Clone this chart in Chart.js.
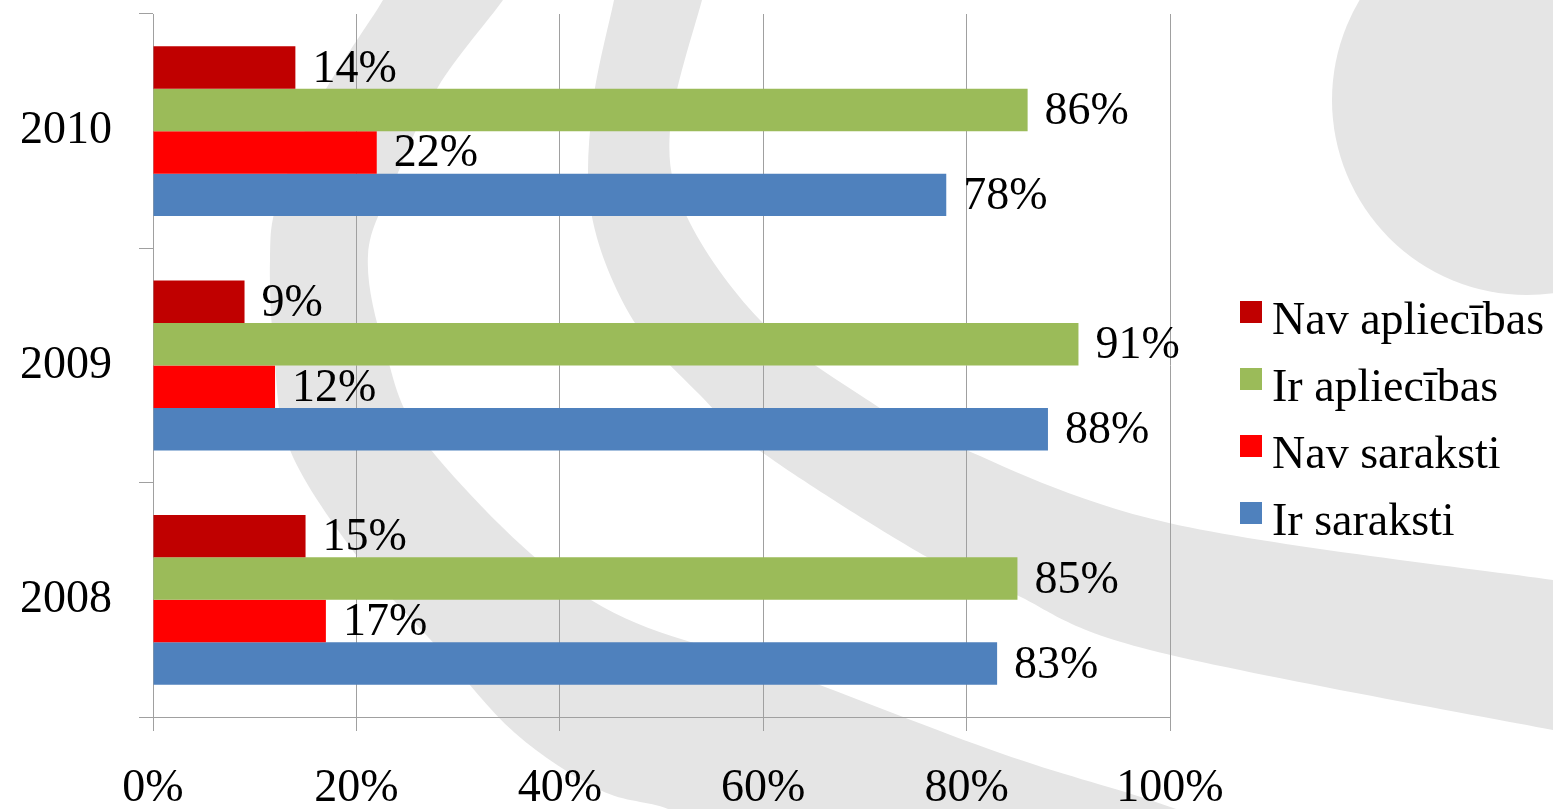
<!DOCTYPE html>
<html>
<head>
<meta charset="utf-8">
<title>Apliecības un saraksti</title>
<script src="https://cdn.jsdelivr.net/npm/chart.js@4.4.1/dist/chart.umd.min.js"></script>
<style>
  html, body { margin: 0; padding: 0; background: #fff; }
  #wrap { width: 1553px; height: 809px; position: relative; }
</style>
</head>
<body>
<div id="wrap"><canvas id="chart"></canvas></div>
<script>
// dati
const years = ['2010', '2009', '2008'];
const seriesNames = ['Nav apliecības', 'Ir apliecības', 'Nav saraksti', 'Ir saraksti'];
const navApliecibas = [14, 9, 15];
const irApliecibas = [86, 91, 85];
const navSaraksti = [22, 12, 17];
const irSaraksti = [78, 88, 83];
const xMin = 0, xMax = 100, xStep = 20;

const serif = '"Liberation Serif", "Times New Roman", serif';
const colors = ['#C00000', '#9BBB59', '#FF0000', '#4F81BD'];
const gridGray = '#a0a0a0';

// fona dekors (pelēkās lokas), koordinātes 1553x809 attēlam
const bgCircle = { x: 1527, y: 100, r: 195 };
const bgBands = [
  {
    a: [[620, -30], [614, 0], [592, 110], [592, 217], [633, 320], [700, 395], [763, 453], [927, 557], [1010, 592], [1150, 650], [1553, 730], [1620, 740]],
    b: [[1620, 588], [1553, 580], [1169, 523], [950, 443], [860, 395], [760, 320], [687, 217], [670, 130], [702, 0], [712, -30]]
  },
  {
    a: [[395, -30], [383, 0], [320, 100], [278, 200], [270, 260], [274, 350], [290, 450], [360, 560], [440, 650], [515, 733], [600, 790], [668, 809], [720, 840]],
    b: [[1260, 840], [1150, 800], [1000, 753], [783, 671], [591, 600], [431, 450], [385, 350], [368, 255], [395, 180], [438, 87], [503, 0], [520, -30]]
  }
];

function smoothPath(ctx, pts, sx, sy, first) {
  const p = pts.map(q => [q[0] * sx, q[1] * sy]);
  if (first) ctx.moveTo(p[0][0], p[0][1]); else ctx.lineTo(p[0][0], p[0][1]);
  for (let i = 0; i < p.length - 1; i++) {
    const p0 = p[i - 1] || p[i], p1 = p[i], p2 = p[i + 1], p3 = p[i + 2] || p2;
    ctx.bezierCurveTo(
      p1[0] + (p2[0] - p0[0]) / 6, p1[1] + (p2[1] - p0[1]) / 6,
      p2[0] - (p3[0] - p1[0]) / 6, p2[1] - (p3[1] - p1[1]) / 6,
      p2[0], p2[1]);
  }
}

const backgroundPlugin = {
  id: 'swoosh',
  beforeDraw(chart) {
    const ctx = chart.ctx;
    const sx = chart.width / 1553, sy = chart.height / 809;
    ctx.save();
    ctx.fillStyle = '#ffffff';
    ctx.fillRect(0, 0, chart.width, chart.height);
    ctx.fillStyle = '#e5e5e5';
    ctx.beginPath();
    ctx.arc(bgCircle.x * sx, bgCircle.y * sy, bgCircle.r * sx, 0, Math.PI * 2);
    ctx.fill();
    bgBands.forEach(band => {
      ctx.beginPath();
      smoothPath(ctx, band.a, sx, sy, true);
      smoothPath(ctx, band.b, sx, sy, false);
      ctx.closePath();
      ctx.fill();
    });
    ctx.restore();
  }
};

const valueLabels = {
  id: 'valueLabels',
  afterDatasetsDraw(chart) {
    const ctx = chart.ctx;
    ctx.save();
    ctx.font = '46px ' + serif;
    ctx.fillStyle = '#000';
    ctx.textAlign = 'left';
    ctx.textBaseline = 'middle';
    chart.data.datasets.forEach((ds, i) => {
      chart.getDatasetMeta(i).data.forEach((bar, j) => {
        ctx.fillText(ds.data[j] + '%', bar.x + 17, bar.y + 2);
      });
    });
    ctx.restore();
  }
};

const sideLegend = {
  id: 'sideLegend',
  afterDraw(chart) {
    const ctx = chart.ctx;
    const area = chart.chartArea;
    const rowH = 67, box = 22;
    const n = chart.data.datasets.length;
    const x0 = area.right + 70;
    const top0 = chart.height / 2 - (rowH * (n - 1) + box) / 2 + 8;
    ctx.save();
    ctx.font = '46px ' + serif;
    ctx.textBaseline = 'alphabetic';
    ctx.textAlign = 'left';
    chart.data.datasets.forEach((ds, i) => {
      const y = top0 + i * rowH;
      ctx.fillStyle = ds.backgroundColor;
      ctx.fillRect(x0, y, box, box);
      ctx.fillStyle = '#000';
      ctx.fillText(ds.label, x0 + box + 10, y + box + 11);
    });
    ctx.restore();
  }
};

const seriesData = [navApliecibas, irApliecibas, navSaraksti, irSaraksti];

new Chart(document.getElementById('chart'), {
  type: 'bar',
  data: {
    labels: years,
    datasets: seriesNames.map((name, i) => ({
      label: name,
      data: seriesData[i],
      backgroundColor: colors[i],
      borderWidth: 0,
      barPercentage: 1,
      categoryPercentage: 0.725
    }))
  },
  options: {
    indexAxis: 'y',
    responsive: true,
    maintainAspectRatio: false,
    animation: false,
    layout: { padding: { top: 14, right: 383, left: 0, bottom: 0 } },
    plugins: {
      legend: { display: false },
      tooltip: { enabled: false }
    },
    scales: {
      x: {
        min: xMin,
        max: xMax,
        ticks: {
          stepSize: xStep,
          padding: 30,
          color: '#000',
          font: { family: serif, size: 46 },
          callback: v => v + '%'
        },
        grid: { color: gridGray, tickLength: 14, lineWidth: 1 },
        border: { color: gridGray },
        afterFit(scale) {
          scale.height = 92;
          scale.paddingLeft = 0;
          scale.paddingRight = 0;
        }
      },
      y: {
        ticks: {
          padding: 27,
          color: '#000',
          font: { family: serif, size: 46 }
        },
        grid: { drawOnChartArea: false, color: gridGray, tickLength: 14 },
        border: { color: gridGray },
        afterFit(scale) {
          scale.width = 153;
          scale.paddingTop = 0;
          scale.paddingBottom = 0;
        }
      }
    }
  },
  plugins: [backgroundPlugin, valueLabels, sideLegend]
});
</script>
</body>
</html>
